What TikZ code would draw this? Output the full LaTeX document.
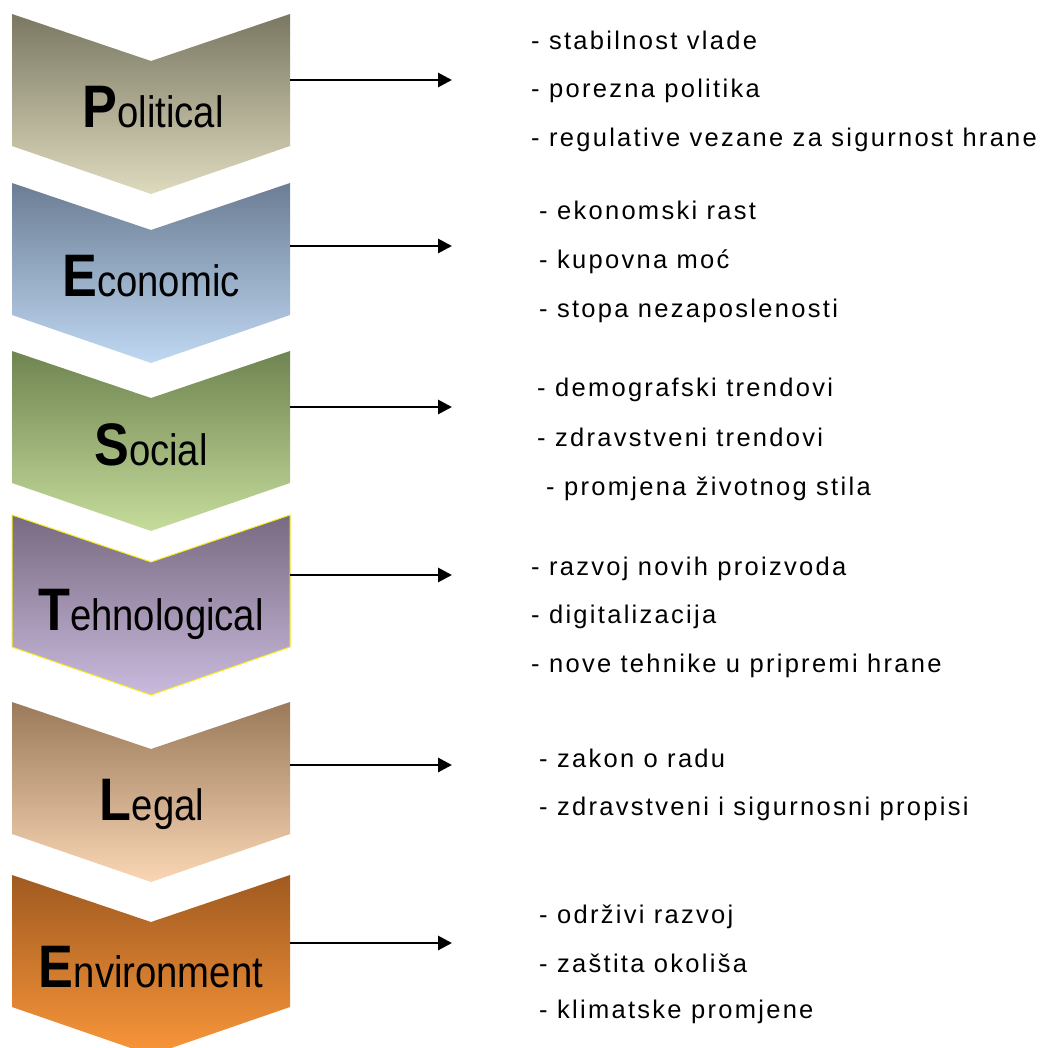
\documentclass[tikz,border=0pt]{standalone}
\usepackage{fontspec}
\setmainfont{Liberation Sans}
\newfontfamily\listfont[LetterSpace=9]{Liberation Sans}
\usetikzlibrary{arrows.meta}
\definecolor{pTop}{RGB}{122,120,98}
\definecolor{pBot}{RGB}{222,218,190}
\definecolor{eTop}{RGB}{107,125,149}
\definecolor{eBot}{RGB}{192,216,242}
\definecolor{sTop}{RGB}{111,132,80}
\definecolor{sBot}{RGB}{198,220,156}
\definecolor{tTop}{RGB}{119,106,128}
\definecolor{tBot}{RGB}{202,186,222}
\definecolor{lTop}{RGB}{154,122,90}
\definecolor{lBot}{RGB}{250,214,180}
\definecolor{nTop}{RGB}{160,90,32}
\definecolor{nBot}{RGB}{250,150,58}
\definecolor{techEdge}{RGB}{245,235,30}
\newcommand{\chevshape}[4]{%
  \path[top color=#3,bottom color=#4,#2] (12,#1) -- (151,#1+47) -- (290,#1) -- (290,#1+132) -- (151,#1+180) -- (12,#1+132) -- cycle;}
\newcommand{\biglbl}[2]{\scalebox{0.87}[1]{{\bfseries\fontsize{60}{60}\selectfont #1}{\fontsize{44}{44}\selectfont #2}}}
\begin{document}
\begin{tikzpicture}[x=1pt,y=-1pt,
  lbl/.style={anchor=base,inner sep=0pt},
  itm/.style={anchor=base west,inner sep=0pt,font=\listfont\fontsize{25.5}{30}\selectfont},
  arr/.style={line width=2.9pt,-{Triangle[length=14pt,width=14pt]}}]
\useasboundingbox (0,0) rectangle (1045,1048);
\clip (0,0) rectangle (1045,1048);
% chevrons
\chevshape{14}{}{pTop}{pBot}
\chevshape{183}{}{eTop}{eBot}
\chevshape{351}{}{sTop}{sBot}
\chevshape{515}{draw=techEdge,line width=1pt}{tTop}{tBot}
\chevshape{702}{}{lTop}{lBot}
\chevshape{875}{}{nTop}{nBot}
% labels
\node[lbl] (lP) at (153,128) {\biglbl{P}{olitical}};
\node[lbl] (lE) at (151,297) {\biglbl{E}{conomic}};
\node[lbl] (lS) at (151,465) {\biglbl{S}{ocial}};
\node[lbl] (lT) at (151,630) {\biglbl{T}{ehnological}};
\node[lbl] (lL) at (152,820) {\biglbl{L}{egal}};
\node[lbl] (lN) at (151,987) {\biglbl{E}{nvironment}};
% arrows
\coordinate (aP1) at (290,80);  \coordinate (aP2) at (452,80);
\coordinate (aE1) at (290,246); \coordinate (aE2) at (452,246);
\coordinate (aS1) at (290,407); \coordinate (aS2) at (452,407);
\coordinate (aT1) at (290,575); \coordinate (aT2) at (452,575);
\coordinate (aL1) at (290,765); \coordinate (aL2) at (452,765);
\coordinate (aN1) at (290,943); \coordinate (aN2) at (452,943);
\draw[arr] (aP1) -- (aP2);
\draw[arr] (aE1) -- (aE2);
\draw[arr] (aS1) -- (aS2);
\draw[arr] (aT1) -- (aT2);
\draw[arr] (aL1) -- (aL2);
\draw[arr] (aN1) -- (aN2);
% lists
\node[itm] (p1) at (531,50) {- stabilnost vlade};
\node[itm] (p2) at (531,98) {- porezna politika};
\node[itm] (p3) at (531,147) {- regulative vezane za sigurnost hrane};
\node[itm] (e1) at (539,220) {- ekonomski rast};
\node[itm] (e2) at (539,269) {- kupovna moć};
\node[itm] (e3) at (539,317) {- stopa nezaposlenosti};
\node[itm] (s1) at (537,396) {- demografski trendovi};
\node[itm] (s2) at (537,446) {- zdravstveni trendovi};
\node[itm] (s3) at (546,495) {- promjena životnog stila};
\node[itm] (t1) at (531,575) {- razvoj novih proizvoda};
\node[itm] (t2) at (531,623) {- digitalizacija};
\node[itm] (t3) at (531,672) {- nove tehnike u pripremi hrane};
\node[itm] (g1) at (539,767) {- zakon o radu};
\node[itm] (g2) at (539,815) {- zdravstveni i sigurnosni propisi};
\node[itm] (n1) at (539,923) {- održivi razvoj};
\node[itm] (n2) at (539,972) {- zaštita okoliša};
\node[itm] (n3) at (539,1018) {- klimatske promjene};
\end{tikzpicture}
\end{document}
